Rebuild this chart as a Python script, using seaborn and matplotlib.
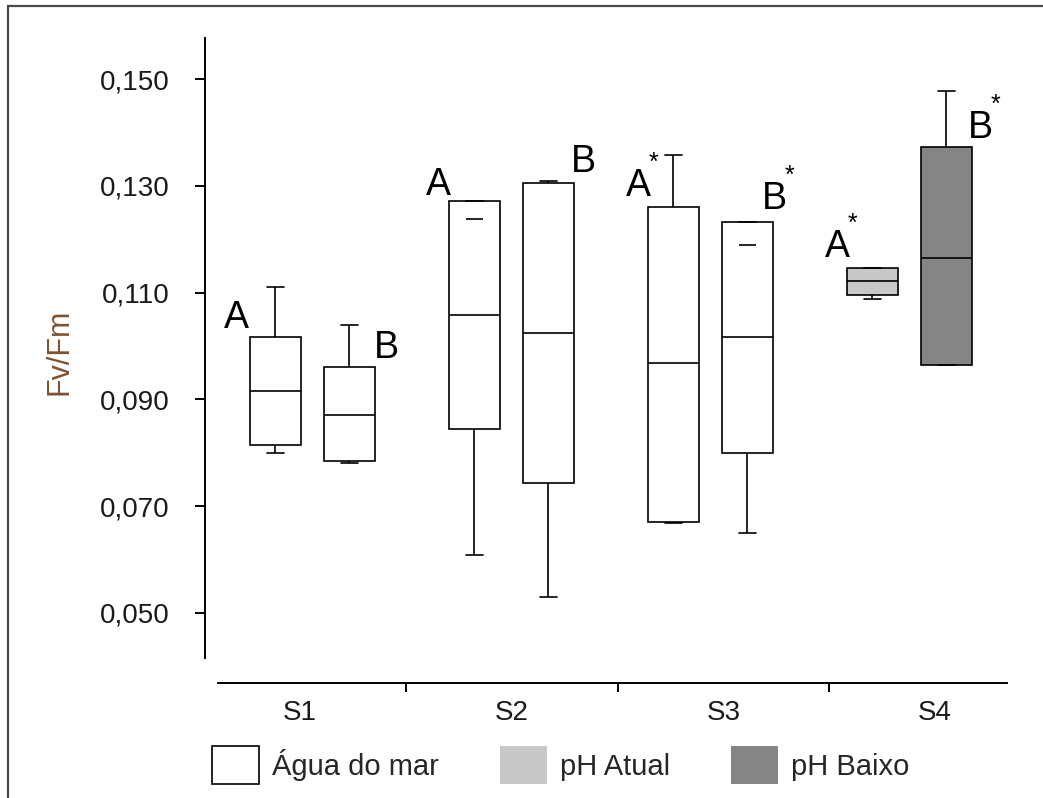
import numpy as np
import pandas as pd
import matplotlib
matplotlib.use("Agg")
import matplotlib.pyplot as plt
from matplotlib.patches import Patch, Rectangle
from matplotlib.ticker import FixedLocator, FuncFormatter
import seaborn as sns

# ---- data -------------------------------------------------------------
sites = ["S1", "S2", "S3", "S4"]
treatments = ["Água do mar", "pH Atual", "pH Baixo"]
treatment_colors = ["#ffffff", "#c8c8c8", "#858585"]

# one entry per box: S1-A, S1-B, S2-A, S2-B, S3-A, S3-B, S4-A, S4-B
box_site = ["S1", "S1", "S2", "S2", "S3", "S3", "S4", "S4"]
box_group = ["A", "B", "A", "B", "A", "B", "A", "B"]
box_treatment = ["Água do mar"] * 6 + ["pH Atual", "pH Baixo"]
whisker_low = [0.0799, 0.0780, 0.0608, 0.0530, 0.0669, 0.0649, 0.1088, 0.0964]
q1 = [0.0815, 0.0784, 0.0845, 0.0744, 0.0671, 0.0799, 0.1095, 0.0964]
median = [0.0916, 0.0871, 0.1058, 0.1024, 0.0968, 0.1017, 0.1122, 0.1165]
q3 = [0.1016, 0.0960, 0.1272, 0.1305, 0.1261, 0.1233, 0.1147, 0.1372]
whisker_high = [0.1110, 0.1039, 0.1238, 0.1309, 0.1357, 0.1189, 0.1147, 0.1478]

# significance letters drawn beside each box
letter_dx = [-0.196, 0.186, -0.18, 0.176, -0.176, 0.136, -0.176, 0.171]
letter_base = [0.1033, 0.0977, 0.1282, 0.1326, 0.1280, 0.1256, 0.1167, 0.1389]
letter_star = [False, False, False, False, True, True, True, True]

y_ticks = [0.050, 0.070, 0.090, 0.110, 0.130, 0.150]

# ---- build long table: five summary points per box -------------------
half_gap = 0.186


def box_pos(i):
    return sites.index(box_site[i]) + (-half_gap if box_group[i] == "A" else half_gap)


rows = []
for i in range(len(box_site)):
    lo = min(whisker_low[i], q1[i])
    hi = max(whisker_high[i], q3[i])
    for v in (lo, q1[i], median[i], q3[i], hi):
        rows.append({"pos": box_pos(i), "value": v, "treatment": box_treatment[i]})
df = pd.DataFrame(rows)

# ---- figure -----------------------------------------------------------
sns.set_style("white")
plt.rcParams["font.family"] = ["Liberation Sans", "DejaVu Sans"]

W, H = 1043, 798
fig = plt.figure(figsize=(W / 100, H / 100), dpi=100)
ax = fig.add_axes([205 / W, 1 - 683 / H, (1007 - 205) / W, (683 - 38) / H])

palette = dict(zip(treatments, treatment_colors))
cap_w = 0.085
sns.boxplot(
    data=df, x="pos", y="value", hue="treatment", palette=palette,
    hue_order=treatments, native_scale=True, dodge=False, width=0.688,
    whis=(0, 100), linecolor="black", linewidth=1.2, legend=False,
    capwidths=cap_w, ax=ax,
)

# caps that fall inside the box are drawn as a short bar only
for i in range(len(box_site)):
    pos = box_pos(i)
    if whisker_high[i] < q3[i]:
        ax.hlines(whisker_high[i], pos - cap_w / 2, pos + cap_w / 2,
                  color="black", lw=1.2, zorder=3)
    if whisker_low[i] > q1[i]:
        ax.hlines(whisker_low[i], pos - cap_w / 2, pos + cap_w / 2,
                  color="black", lw=1.2, zorder=3)

# letters and asterisks
for i in range(len(box_site)):
    x = box_pos(i) + letter_dx[i]
    ax.text(x, letter_base[i], box_group[i], fontsize=27, ha="center",
            va="baseline", color="black", zorder=4)
    if letter_star[i]:
        ax.annotate("*", (x, letter_base[i]), xytext=(11, 24),
                    textcoords="offset points", fontsize=18, ha="center",
                    va="center", color="black")

ax.set_xlim(-0.538, 3.492)
ax.set_ylim(0.03689, 0.15768)
ax.set_xlabel("")
ax.set_ylabel("")
ax.set_xticks([])
ax.yaxis.set_major_locator(FixedLocator(y_ticks))
ax.yaxis.set_major_formatter(FuncFormatter(lambda v, p: f"{v:.3f}".replace(".", ",")))
ax.tick_params(axis="y", direction="out", length=7.5, width=1.4, pad=18,
               labelsize=20, colors="black", labelcolor="#1a1a1a", left=True,
               labelleft=True)
for s in ("top", "right", "bottom"):
    ax.spines[s].set_visible(False)
ax.spines["left"].set_color("black")
ax.spines["left"].set_linewidth(1.4)
ax.spines["left"].set_bounds(0.0416, 0.15768)
ax.patch.set_alpha(0)

# category axis along the bottom
cax = ax.twiny()
cax.set_xlim(-0.449, 3.340)
cax.xaxis.set_ticks_position("bottom")
cax.xaxis.set_label_position("bottom")
for s in ("top", "right", "left"):
    cax.spines[s].set_visible(False)
cax.spines["bottom"].set_visible(True)
cax.spines["bottom"].set_color("black")
cax.spines["bottom"].set_linewidth(1.4)
cax.spines["bottom"].set_bounds(-0.387, 3.340)
cax.xaxis.set_major_locator(FixedLocator([k + 0.5 for k in range(len(sites) - 1)]))
cax.xaxis.set_major_formatter(FuncFormatter(lambda v, p: ""))
cax.xaxis.set_minor_locator(FixedLocator(list(range(len(sites)))))
cax.xaxis.set_minor_formatter(FuncFormatter(lambda v, p: sites[int(round(v))]))
cax.tick_params(axis="x", which="major", direction="out", length=6.5, width=1.4,
                colors="black", bottom=True)
cax.tick_params(axis="x", which="minor", length=0, pad=12, labelsize=20,
                labelcolor="#1a1a1a", bottom=True)
cax.patch.set_alpha(0)

# axis title
fig.text(60 / W, 1 - 352 / H, "Fv/Fm", rotation=90, ha="center", va="center",
         fontsize=22, color="#7d5230")

# legend
handles = [Patch(facecolor=treatment_colors[0], edgecolor="black", linewidth=1.2),
           Patch(facecolor=treatment_colors[1], edgecolor="none"),
           Patch(facecolor=treatment_colors[2], edgecolor="none")]
fig.legend(handles, treatments, loc="center left",
           bbox_to_anchor=(212 / W, 1 - 765 / H), ncol=3, frameon=False,
           fontsize=21, handlelength=1.6, handleheight=1.6,
           handletextpad=0.45, columnspacing=2.1, borderpad=0,
           borderaxespad=0)

# outer frame
fig.patches.append(Rectangle((8 / W, -0.2), 1.2, 1.2 - 6 / H, fill=False,
                             edgecolor="#4a4a4a", linewidth=1.6,
                             transform=fig.transFigure, figure=fig))

fig.savefig("out.png", dpi=100)
